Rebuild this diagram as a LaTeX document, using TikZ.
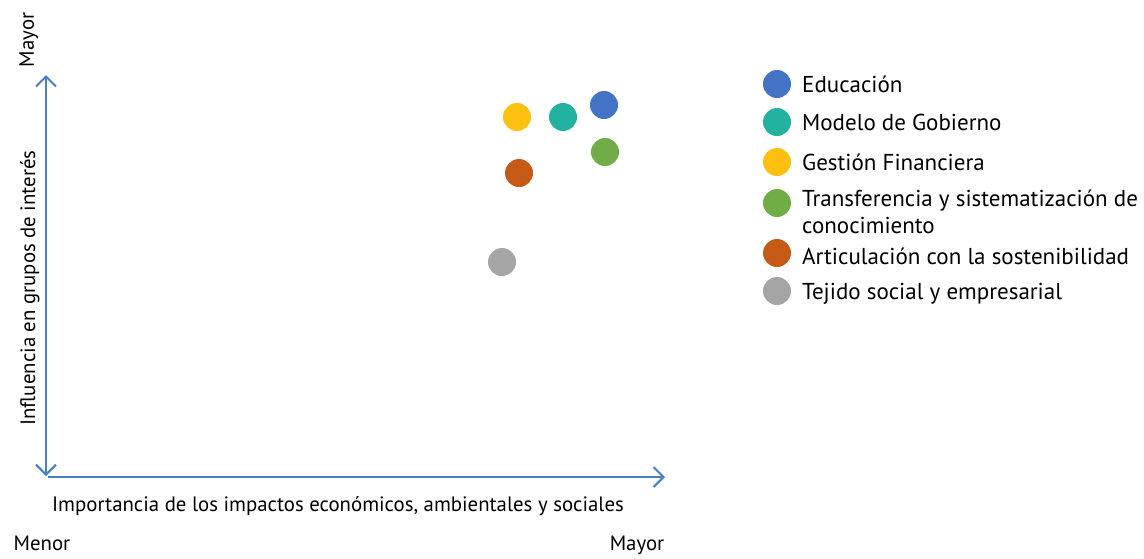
\documentclass[tikz,border=0pt]{standalone}
\usepackage{fontspec}
\setmainfont{PT Sans}
\usetikzlibrary{positioning,arrows.meta}

\definecolor{axisblue}{RGB}{72,126,200}
\definecolor{cEdu}{RGB}{68,114,196}
\definecolor{cGob}{RGB}{35,178,160}
\definecolor{cFin}{RGB}{253,192,17}
\definecolor{cTra}{RGB}{112,173,71}
\definecolor{cArt}{RGB}{197,90,23}
\definecolor{cTej}{RGB}{165,165,165}

\begin{document}
\begin{tikzpicture}[x=1pt,y=-1pt,
        font=\fontsize{20.8}{25}\selectfont,
        dot/.style={circle,draw=none,minimum size=28pt,inner sep=0pt},
        axis/.style={draw=axisblue,line width=2pt,
                     >={Straight Barb[length=10pt,width=20pt]}},
        entry/.style={anchor=base west,inner sep=0pt,align=left,
                      font=\fontsize{23}{26.6}\selectfont}]
        \useasboundingbox (0,0) rectangle (1144,558);

        % axes
        \coordinate (ybot) at (46,476);
        \coordinate (ytop) at (46,75);
        \coordinate (xbeg) at (48,477);
        \coordinate (xend) at (665,477);
        \draw[axis,<->] (ybot) -- (ytop);
        \draw[axis,->] (xbeg) -- (xend);

        % axis texts
        \node[rotate=90,anchor=base,inner sep=0pt] (ymax) at (34,40) {Mayor};
        \node[rotate=90,anchor=base,inner sep=0pt] (ylab) at (35,288) {Influencia en grupos de interés};
        \node[anchor=base,inner sep=0pt] (xlab) at (338,511) {Importancia de los impactos económicos, ambientales y sociales};
        \node[anchor=base,inner sep=0pt] (xmin) at (42,550) {Menor};
        \node[anchor=base,inner sep=0pt] (xmax) at (637,550) {Mayor};

        % points
        \node[dot,fill=cEdu] (pEdu) at (604,105) {};
        \node[dot,fill=cGob] (pGob) at (563,117) {};
        \node[dot,fill=cFin] (pFin) at (517,117) {};
        \node[dot,fill=cTra] (pTra) at (605,152) {};
        \node[dot,fill=cArt] (pArt) at (519,173) {};
        \node[dot,fill=cTej] (pTej) at (502,262) {};

        % legend
        \node[dot,fill=cEdu] (lEdu) at (777,84) {};
        \node[dot,fill=cGob] (lGob) at (777,122) {};
        \node[dot,fill=cFin] (lFin) at (777,162) {};
        \node[dot,fill=cTra] (lTra) at (777,203) {};
        \node[dot,fill=cArt] (lArt) at (777,253) {};
        \node[dot,fill=cTej] (lTej) at (777,291) {};

        \node[entry] (tEdu) at (802,92) {Educación};
        \node[entry] (tGob) at (802,130) {Modelo de Gobierno};
        \node[entry] (tFin) at (802,170) {Gestión Financiera};
        \node[entry] (tTra) at (802,233) {Transferencia y sistematización de\\conocimiento};
        \node[entry] (tArt) at (802,264) {Articulación con la sostenibilidad};
        \node[entry] (tTej) at (802,299) {Tejido social y empresarial};
\end{tikzpicture}
\end{document}
